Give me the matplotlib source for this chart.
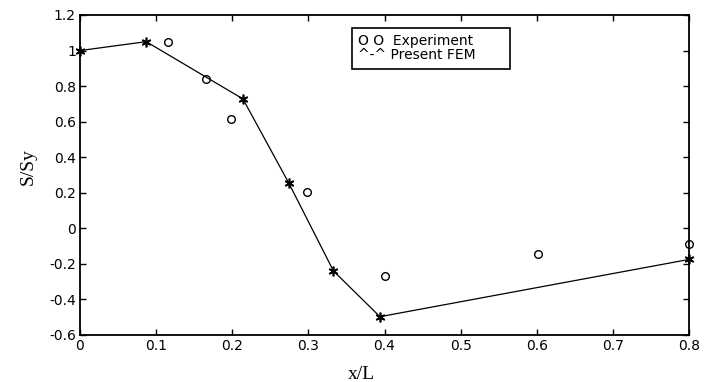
import matplotlib
matplotlib.use("Agg")
import matplotlib.pyplot as plt
from matplotlib.ticker import FuncFormatter
from matplotlib.lines import Line2D

fem_x = [0.0, 0.087, 0.214, 0.274, 0.333, 0.394, 0.8]
fem_y = [1.0, 1.05, 0.728, 0.257, -0.24, -0.497, -0.175]
exp_x = [0.115, 0.166, 0.199, 0.298, 0.4, 0.601, 0.8]
exp_y = [1.05, 0.84, 0.613, 0.203, -0.268, -0.146, -0.088]
xticks = [0, 0.1, 0.2, 0.3, 0.4, 0.5, 0.6, 0.7, 0.8]
yticks = [-0.6, -0.4, -0.2, 0, 0.2, 0.4, 0.6, 0.8, 1, 1.2]

fig = plt.figure(figsize=(7.04, 3.82), dpi=100)
ax = fig.add_axes([80/704, 47/382, 609/704, 320/382])
ax.plot(fem_x, fem_y, color='black', lw=0.9, marker=(6, 2, 0), ms=7, mew=1.2,
        mfc='black', mec='black', clip_on=False, zorder=3)
ax.plot(exp_x, exp_y, ls='none', marker='o', ms=5.5, mfc='none', mec='black', mew=1.0,
        clip_on=False, zorder=3)
ax.set_xlim(0, 0.8)
ax.set_ylim(-0.6, 1.2)
ax.set_xticks(xticks)
ax.set_yticks(yticks)
fmt = FuncFormatter(lambda v, p: ('%g' % round(v, 2)))
ax.xaxis.set_major_formatter(fmt)
ax.yaxis.set_major_formatter(fmt)
ax.tick_params(direction='in', top=True, right=True, length=4, width=1, labelsize=10, pad=3)
for lab in ax.get_xticklabels() + ax.get_yticklabels():
    lab.set_family('DejaVu Sans')
for s in ax.spines.values():
    s.set_linewidth(1.3)
ax.set_xlabel('x/L', family='Liberation Serif', fontsize=14)
ax.set_ylabel('S/Sy', family='Liberation Serif', fontsize=14)
ax.xaxis.set_label_coords((361 - 80) / 609, (335 - 366) / 320)
ax.yaxis.set_label_coords((37 - 80) / 609, (335 - 167) / 320)

h = [Line2D([], [], ls='none'), Line2D([], [], ls='none')]
leg = ax.legend(h, ['O O  Experiment       ', '^-^ Present FEM'], loc='upper left',
                bbox_to_anchor=(272/609, 1 - 13/320), borderaxespad=0,
                handlelength=0, handletextpad=0,
                fancybox=False, edgecolor='black', framealpha=1,
                prop={'family': 'DejaVu Sans', 'size': 10}, borderpad=0.45, labelspacing=0.0)
leg.get_frame().set_linewidth(1.2)
fig.savefig('out.png', dpi=100)
